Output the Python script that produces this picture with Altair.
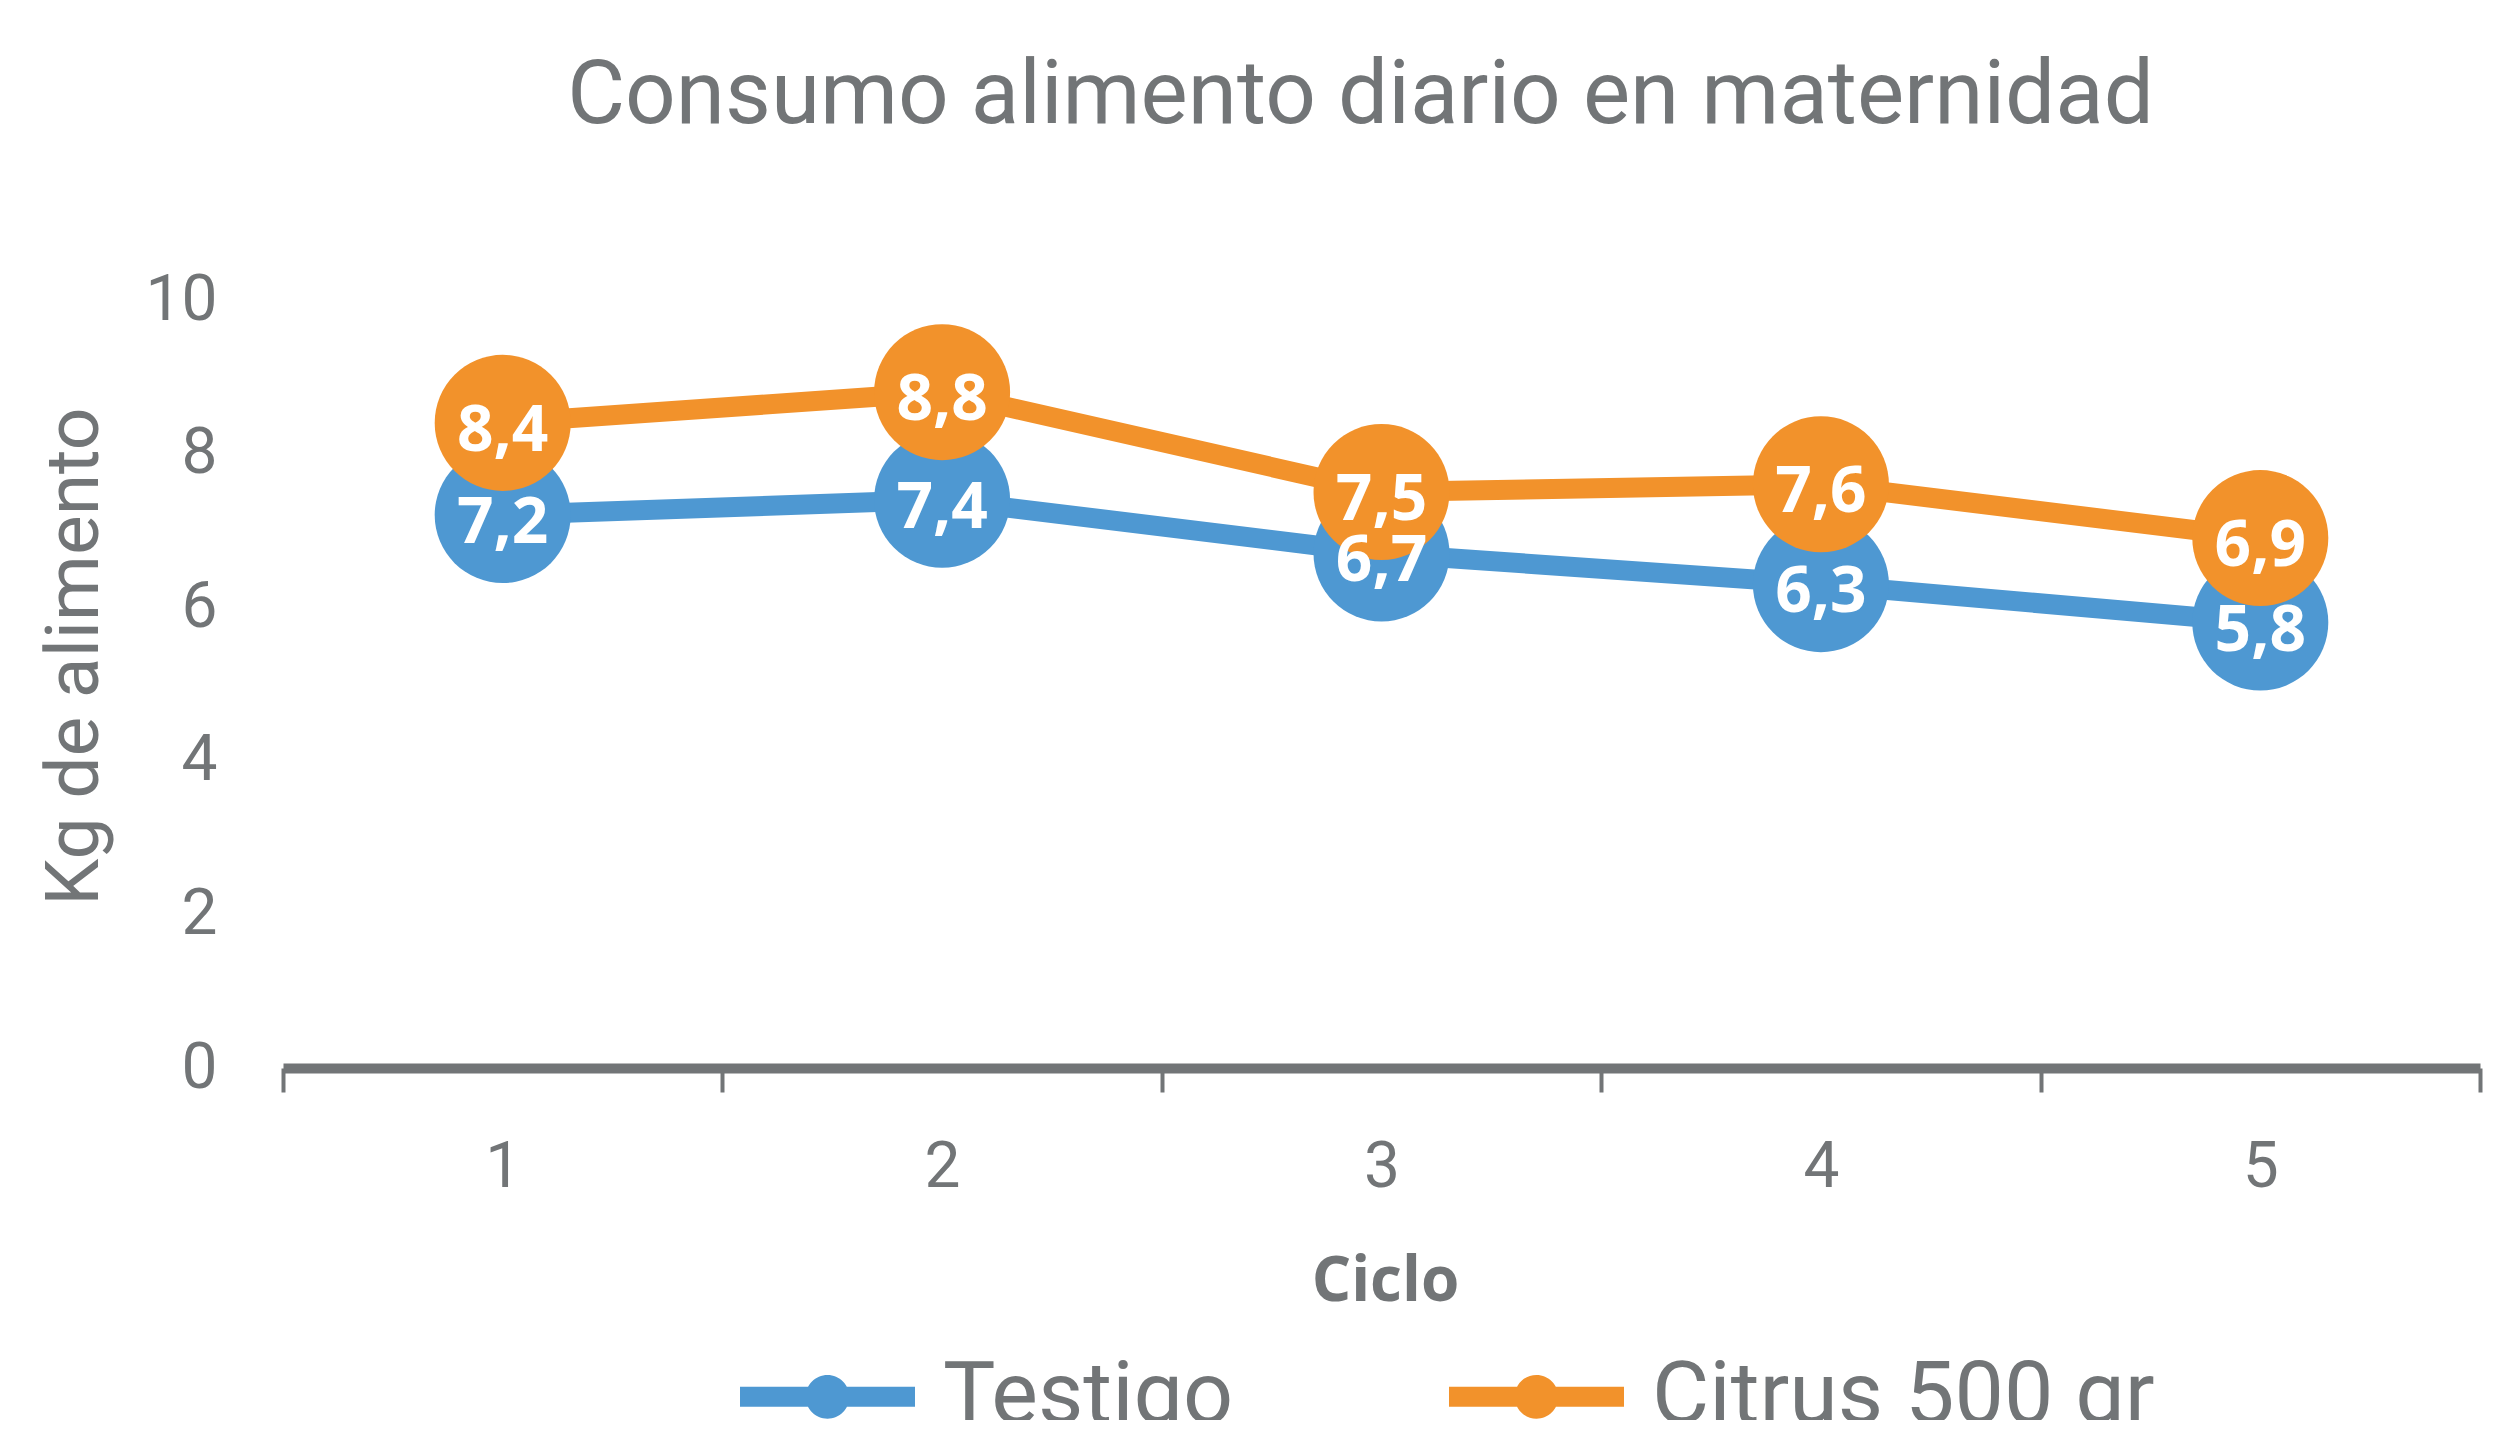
import altair as alt
import pandas as pd

ciclos = [1, 2, 3, 4, 5]
testigo = [7.2, 7.4, 6.7, 6.3, 5.8]
citrus = [8.4, 8.8, 7.5, 7.6, 6.9]
series = ["Testigo", "Citrus 500 gr"]
colors = ["#4E98D2", "#F2922B"]
y_ticks = [0, 2, 4, 6, 8, 10]
x_bounds = [0.5, 1.5, 2.5, 3.5, 4.5, 5.5]

rows = []
for name, vals in zip(series, [testigo, citrus]):
    for c, v in zip(ciclos, vals):
        rows.append({"Serie": name, "Ciclo": c, "Kg": v,
                     "Label": f"{v:.1f}".replace(".", ",")})
df = pd.DataFrame(rows)

GRAY = "#727577"
W, H = 2197, 768

x_enc = alt.X("Ciclo:Q", scale=alt.Scale(domain=[0.5, 5.5], nice=False, zero=False),
              axis=alt.Axis(values=x_bounds,
                            labelExpr="datum.value < 5 ? format(datum.value + 0.5, 'd') : ''",
                            labelOffset=W / 10, labelFlush=False, labelOverlap=False,
                            labelFont="Roboto", labelFontSize=64, labelColor=GRAY,
                            labelBaseline="top", labelPadding=43,
                            ticks=True, tickSize=24, tickWidth=4, tickColor=GRAY,
                            domain=True, domainWidth=10, domainColor=GRAY, grid=False,
                            title="Ciclo", titleFont="Open Sans", titleFontWeight="bold",
                            titleFontSize=62, titleColor=GRAY, titleBaseline="alphabetic",
                            titleAlign="center", titleX=1102, titleY=232))
y_enc = alt.Y("Kg:Q", scale=alt.Scale(domain=[0, 10], nice=False),
              axis=alt.Axis(values=y_ticks, domain=False, ticks=False, grid=False,
                            labelFont="Roboto", labelFontSize=64, labelColor=GRAY,
                            labelPadding=66,
                            title="Kg de alimento", titleFont="Roboto", titleFontSize=75,
                            titleFontWeight="normal", titleColor=GRAY, titleAngle=270,
                            titleAlign="center", titleBaseline="alphabetic",
                            titleX=-186, titleY=356))

cscale = alt.Scale(domain=series, range=colors)
legend_path = ("M-1,-0.115H1V0.115H-1Z "
               "M-0.25,0A0.25,0.25 0 1,1 0.25,0A0.25,0.25 0 1,1 -0.25,0Z")

base = alt.Chart(df)
line_layers = [
    base.transform_filter(alt.datum.Serie == name)
        .mark_line(strokeWidth=20, color=col)
        .encode(x=x_enc, y=y_enc)
    for name, col in zip(series, colors)
]
points = base.mark_point(filled=True, opacity=1, size=18500).encode(
    x=x_enc, y=y_enc,
    color=alt.Color("Serie:N", scale=cscale,
                    legend=alt.Legend(orient="none", legendX=457, legendY=1009,
                                      direction="horizontal", columns=2, title=None,
                                      symbolType=legend_path, symbolSize=30625,
                                      symbolStrokeWidth=0, symbolOpacity=1,
                                      labelFont="Roboto", labelFontSize=88,
                                      labelColor=GRAY, labelOffset=28, labelLimit=1000,
                                      columnPadding=215, padding=0)))
labels = base.mark_text(font="Open Sans", fontSize=64, fontWeight="bold", color="white",
                        align="center", baseline="middle", dy=9).encode(
    x=x_enc, y=y_enc, text="Label:N")

chart = alt.layer(*line_layers, points, labels).properties(
    width=W, height=H, background="white",
    title=alt.TitleParams("Consumo alimento diario en maternidad", font="Roboto",
                          fontSize=89, fontWeight="normal", color=GRAY,
                          anchor="middle", dx=-21, baseline="alphabetic", offset=56),
    autosize=alt.AutoSizeParams(type="none"),
    padding={"left": 275, "top": 292, "right": 5, "bottom": 352},
).configure_view(strokeWidth=0, stroke="transparent")

chart.save("out.html", embed_options={"renderer": "svg", "actions": False})
